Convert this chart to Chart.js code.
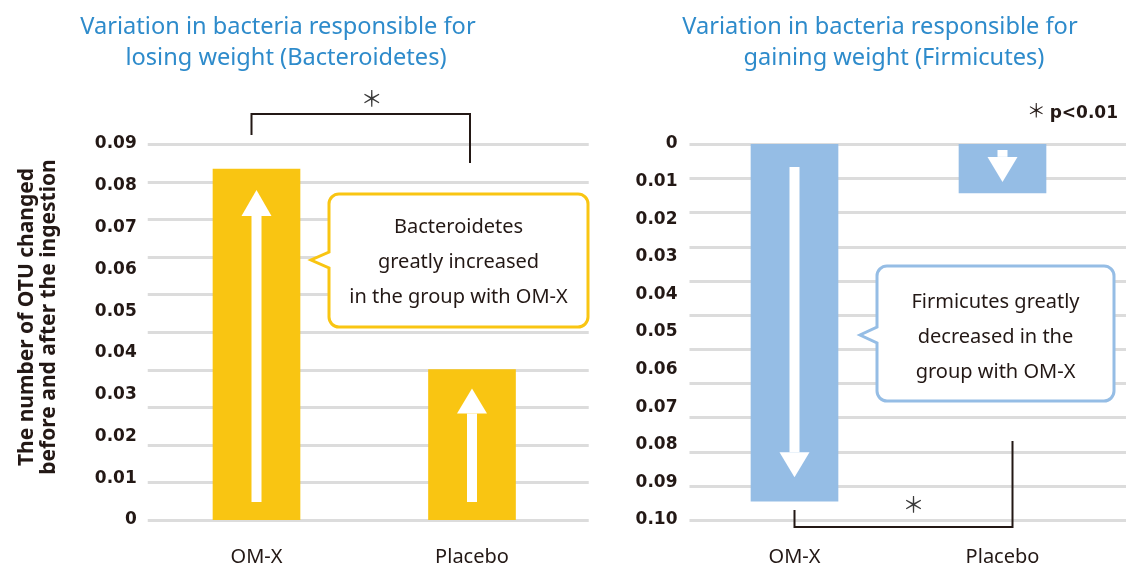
<!DOCTYPE html>
<html>
<head>
<meta charset="utf-8">
<script src="https://cdn.jsdelivr.net/npm/chart.js@4.4.0/dist/chart.umd.min.js"></script>
<style>
html,body{margin:0;padding:0;background:#fff;}
#wrap{position:relative;width:1126px;height:568px;overflow:hidden;font-family:"Noto Sans",sans-serif;}
canvas{position:absolute;left:0;top:0;}
.title{position:absolute;color:#2E8BCB;font-size:23.6px;line-height:31px;white-space:nowrap;text-align:center;}
.title span{display:block;}
.ytitle{position:absolute;left:-144px;top:295px;width:360px;height:44px;transform:rotate(-90deg);
  font-size:21px;font-weight:bold;line-height:22px;color:#231815;text-align:center;white-space:nowrap;}
.note{position:absolute;right:8px;top:96px;font-size:17px;color:#231815;white-space:nowrap;font-family:"DejaVu Sans";}
.note b{font-weight:bold;}
.note .ast{font-family:"Noto Sans CJK JP";font-weight:normal;font-size:19px;margin-right:4px;}
</style>
</head>
<body>
<div id="wrap">
  <canvas id="c1" width="1126" height="568"></canvas>
  <canvas id="c2" width="1126" height="568"></canvas>
  <div class="title" id="t1" style="left:78px;top:10px;width:400px;"></div>
  <div class="title" id="t2" style="left:680px;top:10px;width:400px;"></div>
  <div class="ytitle" id="yt"></div>
  <div class="note"><span class="ast">＊</span><b>p&lt;0.01</b></div>
</div>
<script>
// ---- data ----
const categories = ['OM-X', 'Placebo'];
const bacteroidetesValues = [0.084, 0.036];
const firmicutesValues = [0.095, 0.013];
const leftTickLabels = ['0','0.01','0.02','0.03','0.04','0.05','0.06','0.07','0.08','0.09'];
const rightTickLabels = ['0','0.01','0.02','0.03','0.04','0.05','0.06','0.07','0.08','0.09','0.10'];
const leftTitle = ['Variation in bacteria responsible for', 'losing weight (Bacteroidetes)'];
const rightTitle = ['Variation in bacteria responsible for', 'gaining weight (Firmicutes)'];
const yAxisTitle = ['The number of OTU changed', 'before and after the ingestion'];
const leftCallout = ['Bacteroidetes', 'greatly increased', 'in the group with OM-X'];
const rightCallout = ['Firmicutes greatly', 'decreased in the', 'group with OM-X'];
const sigMark = '＊';

// ---- html text ----
function setTitle(id, lines, shift){
  const el = document.getElementById(id);
  lines.forEach((l,i)=>{const s=document.createElement('span');s.textContent=l;if(i===1)s.style.marginLeft=shift+'px';el.appendChild(s);});
}
setTitle('t1', leftTitle, 16);
setTitle('t2', rightTitle, 28);
document.getElementById('yt').innerHTML = yAxisTitle.map(t=>'<div>'+t+'</div>').join('');

const INK = '#231815';
const GRID = '#dcdcdc';
const FONT = '"Noto Sans", sans-serif';

const decor = {
  id: 'decor',
  beforeDatasetsDraw(chart, args, o){
    const ctx = chart.ctx, ca = chart.chartArea, g = chart.scales.yg;
    ctx.save();
    ctx.strokeStyle = GRID; ctx.lineWidth = 3;
    g.ticks.forEach(t=>{
      const y = Math.round(g.getPixelForValue(t.value)) + 0.5;
      ctx.beginPath(); ctx.moveTo(ca.left - 1, y); ctx.lineTo(ca.right + o.gridExt, y); ctx.stroke();
    });
    ctx.restore();
  },
  afterDatasetsDraw(chart, args, o){
    const ctx = chart.ctx, ca = chart.chartArea;
    const bars = chart.getDatasetMeta(0).data;
    ctx.save();
    // arrows
    bars.forEach((b,i)=>{
      const a = o.arrows[i];
      const dir = Math.sign(b.y - b.base);
      const x = b.x;
      const y0 = b.base + dir*a.start;
      const tip = b.y - dir*a.tip;
      const hb = tip - dir*a.head;
      ctx.fillStyle = '#fff';
      ctx.beginPath();
      ctx.rect(x-5, Math.min(y0,hb), 10, Math.abs(hb-y0));
      ctx.fill();
      ctx.beginPath();
      ctx.moveTo(x-15, hb); ctx.lineTo(x+15, hb); ctx.lineTo(x, tip); ctx.closePath(); ctx.fill();
    });
    // bracket
    const br = o.bracket;
    const ref = br.ref === 'top' ? ca.top : ca.bottom;
    const xa = bars[0].x + br.dx[0], xb = bars[1].x + br.dx[1];
    ctx.strokeStyle = INK; ctx.lineWidth = 2;
    ctx.beginPath();
    ctx.moveTo(xa, ref + br.legA); ctx.lineTo(xa, ref + br.bar); ctx.lineTo(xb, ref + br.bar); ctx.lineTo(xb, ref + br.legB);
    ctx.stroke();
    ctx.fillStyle = '#3a3a3a';
    ctx.font = '22px "Noto Sans CJK JP"';
    ctx.textAlign = 'center'; ctx.textBaseline = 'middle';
    ctx.fillText(sigMark, (xa+xb)/2 + br.astDx, ref + br.astY);
    // callout
    const c = o.callout;
    const r = 10;
    ctx.beginPath();
    ctx.moveTo(c.x0 + r, c.y0);
    ctx.lineTo(c.x1 - r, c.y0); ctx.arcTo(c.x1, c.y0, c.x1, c.y0 + r, r);
    ctx.lineTo(c.x1, c.y1 - r); ctx.arcTo(c.x1, c.y1, c.x1 - r, c.y1, r);
    ctx.lineTo(c.x0 + r, c.y1); ctx.arcTo(c.x0, c.y1, c.x0, c.y1 - r, r);
    ctx.lineTo(c.x0, c.py + 8); ctx.lineTo(c.px, c.py); ctx.lineTo(c.x0, c.py - 8);
    ctx.lineTo(c.x0, c.y0 + r); ctx.arcTo(c.x0, c.y0, c.x0 + r, c.y0, r);
    ctx.closePath();
    ctx.fillStyle = '#fff'; ctx.fill();
    ctx.strokeStyle = c.color; ctx.lineWidth = 3; ctx.lineJoin = 'miter'; ctx.stroke();
    ctx.fillStyle = INK; ctx.font = '20px ' + FONT; ctx.textBaseline = 'alphabetic'; ctx.textAlign = 'center';
    c.lines.forEach((l,i)=>ctx.fillText(l, (c.x0+c.x1)/2, c.base + i*35));
    ctx.restore();
  }
};

function baseOptions(){
  return { responsive: false, animation: false };
}
const tickFont = {family: '"DejaVu Sans"', size: 17, weight: 'bold'};
const catFont = {family: FONT, size: 20};

// ---- left chart ----
new Chart(document.getElementById('c1'), {
  type: 'bar',
  data: { labels: categories, datasets: [{ data: bacteroidetesValues, backgroundColor: '#F9C512', borderWidth: 0, barThickness: 87 }] },
  options: Object.assign(baseOptions(), {
    layout: { padding: { left: 0, right: 1126 - 579.75, top: 144, bottom: 0 } },
    scales: {
      x: { grid: {display:false, drawTicks:false}, border:{display:false},
           ticks: { color: INK, font: catFont, padding: 25 },
           afterFit(s){ s.height = 48; } },
      y: { min: 0, max: 0.09, grid: {display:false, drawTicks:false}, border:{display:false},
           ticks: { stepSize: 0.01, padding: 12, color: INK, font: tickFont, callback: v=>leftTickLabels[Math.round(v*100)] },
           afterFit(s){ s.width = 148.75; } },
      yg: { position: 'right', min: 0, max: 0.10, grid: {display:false, drawTicks:false}, border:{display:false},
            ticks: { stepSize: 0.01, display: false }, afterFit(s){ s.width = 0; } }
    },
    plugins: { legend:{display:false}, tooltip:{enabled:false},
      decor: {
        gridExt: 9,
        arrows: [ {start:18, tip:21, head:26}, {start:18, tip:19, head:25} ],
        bracket: { ref:'top', dx:[-5,-2], legA:-9, bar:-30, legB:19, astDx:11, astY:-46 },
        callout: { x0:329, y0:194, x1:588, y1:327, px:311, py:260, color:'#F9C512', lines: leftCallout, base:233 }
      } }
  }),
  plugins: [decor]
});

// ---- right chart ----
new Chart(document.getElementById('c2'), {
  type: 'bar',
  data: { labels: categories, datasets: [{ data: firmicutesValues, backgroundColor: '#95BDE5', borderWidth: 0, barThickness: 87 }] },
  options: Object.assign(baseOptions(), {
    layout: { padding: { left: 690.5 - 60, right: 1126 - 1106.5, top: 144, bottom: 0 } },
    scales: {
      x: { grid: {display:false, drawTicks:false}, border:{display:false},
           ticks: { color: INK, font: catFont, padding: 25 },
           afterFit(s){ s.height = 48; } },
      y: { min: 0, max: 0.10, reverse: true, grid: {display:false, drawTicks:false}, border:{display:false},
           ticks: { stepSize: 0.01, padding: 13, color: INK, font: tickFont, callback: v=>rightTickLabels[Math.round(v*100)] },
           afterFit(s){ s.width = 60; } },
      yg: { position: 'right', min: 0, max: 0.11, reverse: true, grid: {display:false, drawTicks:false}, border:{display:false},
            ticks: { stepSize: 0.01, display: false }, afterFit(s){ s.width = 0; } }
    },
    plugins: { legend:{display:false}, tooltip:{enabled:false},
      decor: {
        gridExt: 20,
        arrows: [ {start:23, tip:24, head:25}, {start:6, tip:11, head:25} ],
        bracket: { ref:'bottom', dx:[0,10], legA:-10, bar:7, legB:-79, astDx:10, astY:-16 },
        callout: { x0:877, y0:266, x1:1114, y1:401, px:860, py:335, color:'#95BDE5', lines: rightCallout, base:308 }
      } }
  }),
  plugins: [decor]
});
</script>
</body>
</html>
